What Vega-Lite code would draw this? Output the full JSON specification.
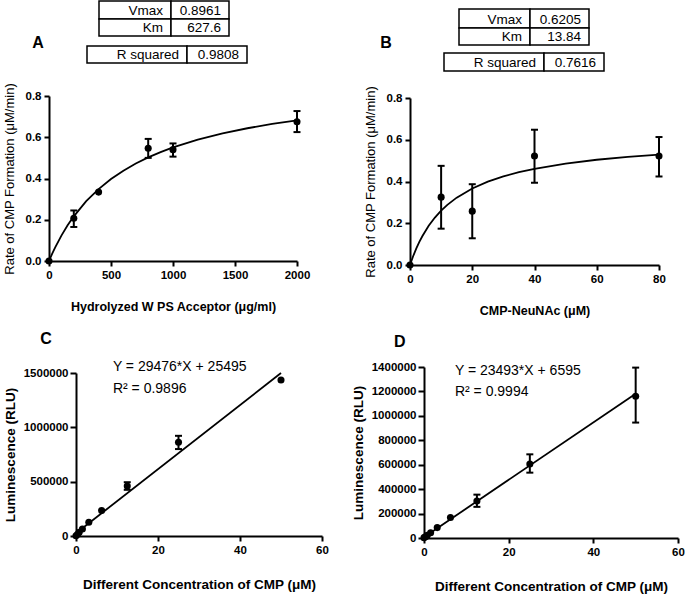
{
  "$schema": "https://vega.github.io/schema/vega-lite/v6.json",
  "width": 685,
  "height": 596,
  "padding": 0,
  "autosize": {"type": "none"},
  "background": "white",
  "config": {
    "view": {"stroke": null},
    "font": "Liberation Sans",
    "axis": {
      "grid": false,
      "domainColor": "black",
      "domainWidth": 2,
      "tickColor": "black",
      "tickWidth": 2,
      "tickSize": 5,
      "labelColor": "black",
      "labelFont": "Liberation Sans",
      "labelFontWeight": "bold",
      "labelFontSize": 11.5,
      "labelPadding": 3,
      "labelFlush": false,
      "labelOverlap": false,
      "titleColor": "black",
      "titleFont": "Liberation Sans"
    },
    "text": {"font": "Liberation Sans", "color": "black"}
  },
  "resolve": {
    "scale": {"x": "independent", "y": "independent"},
    "axis": {"x": "independent", "y": "independent"}
  },
  "layer": [
    {
      "layer": [
        {
          "data": {"values": [
            {"x": 0, "y": 0}, {"x": 25, "y": 0.0343}, {"x": 50, "y": 0.0661}, {"x": 100, "y": 0.1232},
            {"x": 150, "y": 0.1729}, {"x": 200, "y": 0.2166}, {"x": 300, "y": 0.2898}, {"x": 400, "y": 0.3488},
            {"x": 500, "y": 0.3974}, {"x": 600, "y": 0.438}, {"x": 700, "y": 0.4725}, {"x": 800, "y": 0.5022},
            {"x": 900, "y": 0.528}, {"x": 1000, "y": 0.5506}, {"x": 1200, "y": 0.5884}, {"x": 1400, "y": 0.6187},
            {"x": 1600, "y": 0.6436}, {"x": 1800, "y": 0.6644}, {"x": 2000, "y": 0.6821}
          ]},
          "mark": {"type": "line", "color": "black", "strokeWidth": 1.8},
          "encoding": {
            "x": {"field": "x", "type": "quantitative",
              "scale": {"domain": [0, 2000], "range": [49, 297], "nice": false, "zero": false},
              "axis": {"orient": "bottom", "offset": -335, "values": [0, 500, 1000, 1500, 2000], "format": "d",
                "title": "Hydrolyzed W PS Acceptor (μg/ml)", "titleFontSize": 12.5, "titleFontWeight": "bold", "titlePadding": 20}},
            "y": {"field": "y", "type": "quantitative",
              "scale": {"domain": [0, 0.8], "range": [261, 96], "nice": false, "zero": false},
              "axis": {"orient": "left", "offset": -49, "values": [0, 0.2, 0.4, 0.6, 0.8], "format": ".1f",
                "title": "Rate of CMP Formation (μM/min)", "titleFontSize": 13, "titleFontWeight": "normal", "titlePadding": 9}}
          }
        },
        {
          "data": {"name": "ptsA", "values": [
            {"x": 0, "y": 0}, {"x": 200, "y": 0.207, "lo": 0.165, "hi": 0.245}, {"x": 400, "y": 0.334},
            {"x": 800, "y": 0.547, "lo": 0.5, "hi": 0.592}, {"x": 1000, "y": 0.54, "lo": 0.506, "hi": 0.57},
            {"x": 2000, "y": 0.675, "lo": 0.625, "hi": 0.727}
          ]},
          "layer": [
            {
              "transform": [{"filter": "datum.lo != null"}],
              "mark": {"type": "rule", "color": "black", "strokeWidth": 2},
              "encoding": {"x": {"field": "x", "type": "quantitative"}, "y": {"field": "lo", "type": "quantitative"}, "y2": {"field": "hi"}}
            },
            {
              "transform": [{"filter": "datum.lo != null"}],
              "mark": {"type": "tick", "orient": "horizontal", "size": 7, "thickness": 2, "color": "black", "opacity": 1},
              "encoding": {"x": {"field": "x", "type": "quantitative"}, "y": {"field": "lo", "type": "quantitative"}}
            },
            {
              "transform": [{"filter": "datum.lo != null"}],
              "mark": {"type": "tick", "orient": "horizontal", "size": 7, "thickness": 2, "color": "black", "opacity": 1},
              "encoding": {"x": {"field": "x", "type": "quantitative"}, "y": {"field": "hi", "type": "quantitative"}}
            },
            {
              "mark": {"type": "circle", "size": 50, "color": "black", "opacity": 1},
              "encoding": {"x": {"field": "x", "type": "quantitative"}, "y": {"field": "y", "type": "quantitative"}}
            }
          ]
        },
        {
          "data": {"values": [{}]},
          "mark": {"type": "text", "text": "A", "fontSize": 16, "fontWeight": "bold", "align": "center", "baseline": "middle"},
          "encoding": {"x": {"datum": -88.7, "type": "quantitative"}, "y": {"datum": 1.057, "type": "quantitative"}}
        }
      ]
    },
    {
      "data": {"values": [
        {"t": "Vmax", "c0": 0, "c1": 1, "r0": 0, "r1": 1},
        {"t": "0.8961", "c0": 1, "c1": 2, "r0": 0, "r1": 1},
        {"t": "Km", "c0": 0, "c1": 1, "r0": 1, "r1": 2},
        {"t": "627.6", "c0": 1, "c1": 2, "r0": 1, "r1": 2},
        {"t": "R squared", "c0": 3, "c1": 4, "r0": 3, "r1": 4},
        {"t": "0.9808", "c0": 4, "c1": 5, "r0": 3, "r1": 4}
      ]},
      "layer": [
        {
          "mark": {"type": "rect", "fill": "white", "stroke": "black", "strokeWidth": 1.5},
          "encoding": {
            "x": {"field": "c0", "type": "quantitative", "axis": null,
              "scale": {"domain": [0, 1, 2, 3, 4, 5], "range": [99, 171, 229, 87, 187, 247], "nice": false, "zero": false}},
            "x2": {"field": "c1"},
            "y": {"field": "r0", "type": "quantitative", "axis": null,
              "scale": {"domain": [0, 1, 2, 3, 4], "range": [1, 19, 36, 46, 63], "nice": false, "zero": false}},
            "y2": {"field": "r1"}
          }
        },
        {
          "mark": {"type": "text", "align": "right", "baseline": "alphabetic", "dx": -8, "dy": -4, "fontSize": 13.5},
          "encoding": {
            "x": {"field": "c1", "type": "quantitative"},
            "y": {"field": "r1", "type": "quantitative"},
            "text": {"field": "t"}
          }
        }
      ]
    },
    {
      "layer": [
        {
          "data": {"values": [
            {"x": 0, "y": 0}, {"x": 1, "y": 0.0418}, {"x": 2, "y": 0.0784}, {"x": 3, "y": 0.1105},
            {"x": 4, "y": 0.1391}, {"x": 6, "y": 0.1877}, {"x": 8, "y": 0.2273}, {"x": 10, "y": 0.2603},
            {"x": 12, "y": 0.2882}, {"x": 15, "y": 0.3227}, {"x": 20, "y": 0.3667}, {"x": 25, "y": 0.3994},
            {"x": 30, "y": 0.4246}, {"x": 35, "y": 0.4447}, {"x": 40, "y": 0.461}, {"x": 50, "y": 0.486},
            {"x": 60, "y": 0.5042}, {"x": 70, "y": 0.5181}, {"x": 80, "y": 0.529}
          ]},
          "mark": {"type": "line", "color": "black", "strokeWidth": 1.8},
          "encoding": {
            "x": {"field": "x", "type": "quantitative",
              "scale": {"domain": [0, 80], "range": [410, 659], "nice": false, "zero": false},
              "axis": {"orient": "bottom", "offset": -331, "values": [0, 20, 40, 60, 80], "format": "d",
                "title": "CMP-NeuNAc (μM)", "titleFontSize": 12.5, "titleFontWeight": "bold", "titlePadding": 20}},
            "y": {"field": "y", "type": "quantitative",
              "scale": {"domain": [0, 0.8], "range": [265, 98], "nice": false, "zero": false},
              "axis": {"orient": "left", "offset": -410, "values": [0, 0.2, 0.4, 0.6, 0.8], "format": ".1f",
                "title": "Rate of CMP Formation (μM/min)", "titleFontSize": 13, "titleFontWeight": "normal", "titlePadding": 9}}
          }
        },
        {
          "data": {"values": [
            {"x": 0, "y": 0}, {"x": 10, "y": 0.325, "lo": 0.174, "hi": 0.475},
            {"x": 20, "y": 0.258, "lo": 0.128, "hi": 0.387}, {"x": 40, "y": 0.522, "lo": 0.394, "hi": 0.648},
            {"x": 80, "y": 0.522, "lo": 0.424, "hi": 0.613}
          ]},
          "layer": [
            {
              "transform": [{"filter": "datum.lo != null"}],
              "mark": {"type": "rule", "color": "black", "strokeWidth": 2},
              "encoding": {"x": {"field": "x", "type": "quantitative"}, "y": {"field": "lo", "type": "quantitative"}, "y2": {"field": "hi"}}
            },
            {
              "transform": [{"filter": "datum.lo != null"}],
              "mark": {"type": "tick", "orient": "horizontal", "size": 7, "thickness": 2, "color": "black", "opacity": 1},
              "encoding": {"x": {"field": "x", "type": "quantitative"}, "y": {"field": "lo", "type": "quantitative"}}
            },
            {
              "transform": [{"filter": "datum.lo != null"}],
              "mark": {"type": "tick", "orient": "horizontal", "size": 7, "thickness": 2, "color": "black", "opacity": 1},
              "encoding": {"x": {"field": "x", "type": "quantitative"}, "y": {"field": "hi", "type": "quantitative"}}
            },
            {
              "mark": {"type": "circle", "size": 50, "color": "black", "opacity": 1},
              "encoding": {"x": {"field": "x", "type": "quantitative"}, "y": {"field": "y", "type": "quantitative"}}
            }
          ]
        },
        {
          "data": {"values": [{}]},
          "mark": {"type": "text", "text": "B", "fontSize": 16, "fontWeight": "bold", "align": "center", "baseline": "middle"},
          "encoding": {"x": {"datum": -7.7, "type": "quantitative"}, "y": {"datum": 1.0635, "type": "quantitative"}}
        }
      ]
    },
    {
      "data": {"values": [
        {"t": "Vmax", "c0": 0, "c1": 1, "r0": 0, "r1": 1},
        {"t": "0.6205", "c0": 1, "c1": 2, "r0": 0, "r1": 1},
        {"t": "Km", "c0": 0, "c1": 1, "r0": 1, "r1": 2},
        {"t": "13.84", "c0": 1, "c1": 2, "r0": 1, "r1": 2},
        {"t": "R squared", "c0": 3, "c1": 4, "r0": 3, "r1": 4},
        {"t": "0.7616", "c0": 4, "c1": 5, "r0": 3, "r1": 4}
      ]},
      "layer": [
        {
          "mark": {"type": "rect", "fill": "white", "stroke": "black", "strokeWidth": 1.5},
          "encoding": {
            "x": {"field": "c0", "type": "quantitative", "axis": null,
              "scale": {"domain": [0, 1, 2, 3, 4, 5], "range": [459, 530, 589, 444, 544, 604], "nice": false, "zero": false}},
            "x2": {"field": "c1"},
            "y": {"field": "r0", "type": "quantitative", "axis": null,
              "scale": {"domain": [0, 1, 2, 3, 4], "range": [9, 28, 45, 53, 71], "nice": false, "zero": false}},
            "y2": {"field": "r1"}
          }
        },
        {
          "mark": {"type": "text", "align": "right", "baseline": "alphabetic", "dx": -8, "dy": -4, "fontSize": 13.5},
          "encoding": {
            "x": {"field": "c1", "type": "quantitative"},
            "y": {"field": "r1", "type": "quantitative"},
            "text": {"field": "t"}
          }
        }
      ]
    },
    {
      "layer": [
        {
          "data": {"values": [{"x": 0, "y": 25495}, {"x": 50, "y": 1499295}]},
          "mark": {"type": "line", "color": "black", "strokeWidth": 1.8},
          "encoding": {
            "x": {"field": "x", "type": "quantitative",
              "scale": {"domain": [0, 60], "range": [76, 322], "nice": false, "zero": false},
              "axis": {"orient": "bottom", "offset": -60, "values": [0, 20, 40, 60], "format": "d",
                "title": "Different Concentration of CMP (μM)", "titleFontSize": 13.5, "titleFontWeight": "bold", "titlePadding": 22}},
            "y": {"field": "y", "type": "quantitative",
              "scale": {"domain": [0, 1500000], "range": [536, 373], "nice": false, "zero": false},
              "axis": {"orient": "left", "offset": -76, "values": [0, 500000, 1000000, 1500000], "format": "d",
                "tickSize": 6, "labelPadding": 2,
                "title": "Luminescence (RLU)", "titleFontSize": 13.5, "titleFontWeight": "bold", "titlePadding": 6}}
          }
        },
        {
          "data": {"values": [
            {"x": 0, "y": 3000}, {"x": 0.39, "y": 15000}, {"x": 0.78, "y": 35000}, {"x": 1.5625, "y": 65000},
            {"x": 3.125, "y": 126000}, {"x": 6.25, "y": 235000}, {"x": 12.5, "y": 460000, "lo": 425000, "hi": 495000},
            {"x": 25, "y": 862000, "lo": 800000, "hi": 922000}, {"x": 50, "y": 1436000}
          ]},
          "layer": [
            {
              "transform": [{"filter": "datum.lo != null"}],
              "mark": {"type": "rule", "color": "black", "strokeWidth": 2},
              "encoding": {"x": {"field": "x", "type": "quantitative"}, "y": {"field": "lo", "type": "quantitative"}, "y2": {"field": "hi"}}
            },
            {
              "transform": [{"filter": "datum.lo != null"}],
              "mark": {"type": "tick", "orient": "horizontal", "size": 7, "thickness": 2, "color": "black", "opacity": 1},
              "encoding": {"x": {"field": "x", "type": "quantitative"}, "y": {"field": "lo", "type": "quantitative"}}
            },
            {
              "transform": [{"filter": "datum.lo != null"}],
              "mark": {"type": "tick", "orient": "horizontal", "size": 7, "thickness": 2, "color": "black", "opacity": 1},
              "encoding": {"x": {"field": "x", "type": "quantitative"}, "y": {"field": "hi", "type": "quantitative"}}
            },
            {
              "mark": {"type": "circle", "size": 50, "color": "black", "opacity": 1},
              "encoding": {"x": {"field": "x", "type": "quantitative"}, "y": {"field": "y", "type": "quantitative"}}
            }
          ]
        },
        {
          "data": {"values": [{}]},
          "mark": {"type": "text", "text": "C", "fontSize": 16, "fontWeight": "bold", "align": "center", "baseline": "middle"},
          "encoding": {"x": {"datum": -7.3, "type": "quantitative"}, "y": {"datum": 1812900, "type": "quantitative"}}
        },
        {
          "data": {"values": [{}]},
          "mark": {"type": "text", "text": "Y = 29476*X + 25495", "fontSize": 14, "align": "left", "baseline": "middle"},
          "encoding": {"x": {"datum": 9.0, "type": "quantitative"}, "y": {"datum": 1555000, "type": "quantitative"}}
        },
        {
          "data": {"values": [{}]},
          "mark": {"type": "text", "text": "R² = 0.9896", "fontSize": 14, "align": "left", "baseline": "middle"},
          "encoding": {"x": {"datum": 9.0, "type": "quantitative"}, "y": {"datum": 1352800, "type": "quantitative"}}
        }
      ]
    },
    {
      "layer": [
        {
          "data": {"values": [{"x": 0, "y": 6595}, {"x": 50, "y": 1181245}]},
          "mark": {"type": "line", "color": "black", "strokeWidth": 1.8},
          "encoding": {
            "x": {"field": "x", "type": "quantitative",
              "scale": {"domain": [0, 60], "range": [424, 678], "nice": false, "zero": false},
              "axis": {"orient": "bottom", "offset": -58, "values": [0, 20, 40, 60], "format": "d",
                "title": "Different Concentration of CMP (μM)", "titleFontSize": 13.5, "titleFontWeight": "bold", "titlePadding": 22}},
            "y": {"field": "y", "type": "quantitative",
              "scale": {"domain": [0, 1400000], "range": [538, 367], "nice": false, "zero": false},
              "axis": {"orient": "left", "offset": -424, "values": [0, 200000, 400000, 600000, 800000, 1000000, 1200000, 1400000], "format": "d",
                "tickSize": 6, "labelPadding": 2,
                "title": "Luminescence (RLU)", "titleFontSize": 13.5, "titleFontWeight": "bold", "titlePadding": 6}}
          }
        },
        {
          "data": {"values": [
            {"x": 0, "y": 3000}, {"x": 0.39, "y": 11000}, {"x": 0.78, "y": 22000}, {"x": 1.5625, "y": 43000},
            {"x": 3.125, "y": 85000}, {"x": 6.25, "y": 168000}, {"x": 12.5, "y": 302000, "lo": 255000, "hi": 355000},
            {"x": 25, "y": 606000, "lo": 535000, "hi": 685000}, {"x": 50, "y": 1160000, "lo": 945000, "hi": 1395000}
          ]},
          "layer": [
            {
              "transform": [{"filter": "datum.lo != null"}],
              "mark": {"type": "rule", "color": "black", "strokeWidth": 2},
              "encoding": {"x": {"field": "x", "type": "quantitative"}, "y": {"field": "lo", "type": "quantitative"}, "y2": {"field": "hi"}}
            },
            {
              "transform": [{"filter": "datum.lo != null"}],
              "mark": {"type": "tick", "orient": "horizontal", "size": 7, "thickness": 2, "color": "black", "opacity": 1},
              "encoding": {"x": {"field": "x", "type": "quantitative"}, "y": {"field": "lo", "type": "quantitative"}}
            },
            {
              "transform": [{"filter": "datum.lo != null"}],
              "mark": {"type": "tick", "orient": "horizontal", "size": 7, "thickness": 2, "color": "black", "opacity": 1},
              "encoding": {"x": {"field": "x", "type": "quantitative"}, "y": {"field": "hi", "type": "quantitative"}}
            },
            {
              "mark": {"type": "circle", "size": 50, "color": "black", "opacity": 1},
              "encoding": {"x": {"field": "x", "type": "quantitative"}, "y": {"field": "y", "type": "quantitative"}}
            }
          ]
        },
        {
          "data": {"values": [{}]},
          "mark": {"type": "text", "text": "D", "fontSize": 16, "fontWeight": "bold", "align": "center", "baseline": "middle"},
          "encoding": {"x": {"datum": -5.7, "type": "quantitative"}, "y": {"datum": 1604700, "type": "quantitative"}}
        },
        {
          "data": {"values": [{}]},
          "mark": {"type": "text", "text": "Y = 23493*X + 6595", "fontSize": 14, "align": "left", "baseline": "middle"},
          "encoding": {"x": {"datum": 7.3, "type": "quantitative"}, "y": {"datum": 1367000, "type": "quantitative"}}
        },
        {
          "data": {"values": [{}]},
          "mark": {"type": "text", "text": "R² = 0.9994", "fontSize": 14, "align": "left", "baseline": "middle"},
          "encoding": {"x": {"datum": 7.3, "type": "quantitative"}, "y": {"datum": 1195000, "type": "quantitative"}}
        }
      ]
    }
  ]
}
